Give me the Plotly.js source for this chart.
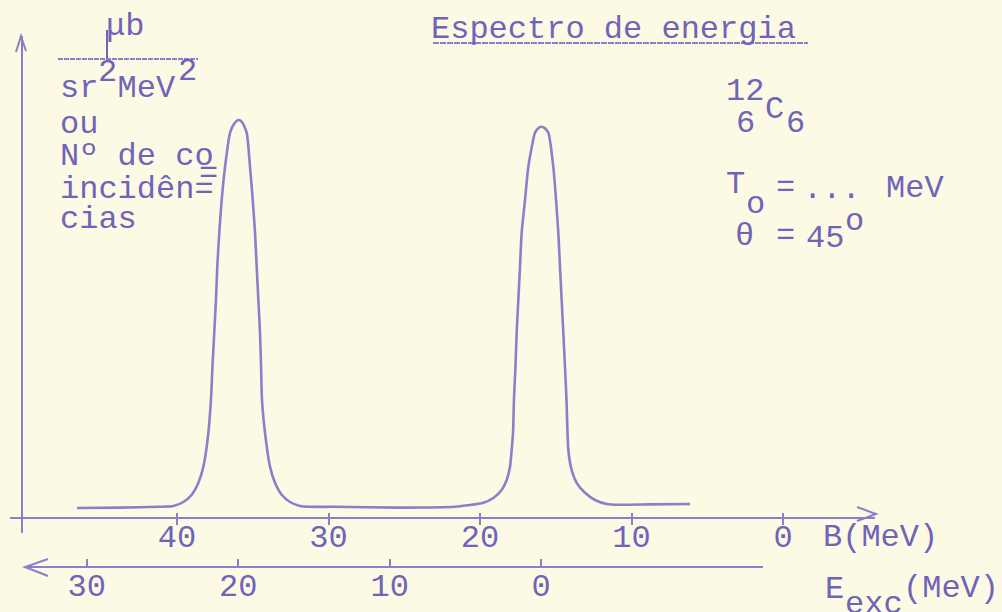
<!DOCTYPE html>
<html>
<head>
<meta charset="utf-8">
<script src="https://cdn.plot.ly/plotly-3.0.1.min.js"></script>
<style>
  html, body { margin: 0; padding: 0; background: #fcfae5; }
  #chart { width: 1002px; height: 612px; }
</style>
</head>
<body>
<div id="chart"></div>
<script>
// Excitation energy of 12C (MeV) along the measured spectrum
const excEnergy = [
  30.64, 27.80, 25.16, 24.28, 23.62, 23.07, 22.63, 22.30, 21.97, 21.80,
  21.70, 21.58, 21.47, 21.38, 21.25, 21.09, 20.87, 20.54, 20.28, 19.99,
  19.75, 19.44, 19.22, 19.04, 18.89, 18.78, 18.67, 18.56, 18.49, 18.43,
  18.23, 17.90, 17.57, 17.13, 16.58, 15.92, 15.26, 13.74, 9.32, 5.69,
  3.82, 3.16, 2.61, 2.28, 2.06, 1.95, 1.86, 1.80, 1.70, 1.62,
  1.51, 1.40, 1.29, 1.07, 0.85, 0.41, 0.21, 0.00, -0.25, -0.47,
  -0.80, -0.98, -1.13, -1.24, -1.35, -1.46, -1.57, -1.67, -1.79, -2.01,
  -2.34, -2.89, -3.55, -4.32, -5.20, -7.18, -9.82
];
// Cross section / number of coincidences (arbitrary units)
const counts = [
  2.5, 2.6, 2.8, 3.0, 4.0, 5.8, 8.8, 12.8, 21.3, 29.5,
  37.8, 46.3, 54.5, 62.8, 71.3, 79.5, 87.8, 96.3, 98.5, 99.5,
  99.0, 96.3, 87.8, 79.5, 71.3, 62.8, 54.5, 46.3, 37.8, 29.5,
  21.3, 12.8, 8.8, 5.8, 4.0, 3.0, 2.8, 2.8, 2.6, 2.8,
  3.8, 5.0, 7.0, 9.5, 12.8, 17.0, 21.3, 29.5, 37.8, 46.3,
  54.5, 62.8, 71.3, 79.5, 87.8, 96.3, 97.4, 97.8, 97.4, 96.3,
  87.8, 79.5, 71.3, 62.8, 54.5, 46.3, 37.8, 29.5, 17.0, 12.0,
  8.8, 6.3, 4.5, 3.5, 3.3, 3.4, 3.5
];
// Binding energy scale B (MeV) and excitation energy scale E_exc (MeV)
const bTicks = [40, 30, 20, 10, 0];
const eTicks = [30, 20, 10, 0];
// proton separation energy of 12C: B = E_exc + Sp
const separationEnergy = 15.96;

const W = 1002, H = 612;
const INK = '#7064b9';
const LINE = '#8a7fcb';
const PAPER = '#fcfae5';
const FONT = 'Liberation Mono, Courier New, monospace';
const FS = 32;

// page geometry helpers (pixels -> paper fractions)
const fx = px => px / W;
const fy = py => 1 - py / H;
const pxPerMeV = 15.15;
const bZeroPx = 783;
const bAt = px => (bZeroPx - px) / pxPerMeV;
const eAt = px => bAt(px) - separationEnergy;
const yZeroPx = 518, pxPerUnit = 4;
const yAt = py => (yZeroPx - py) / pxPerUnit;

const spectrum = {
  x: excEnergy, y: counts,
  xaxis: 'x2', yaxis: 'y',
  mode: 'lines',
  line: { color: LINE, width: 2.6, shape: 'spline', smoothing: 0.6 },
  hoverinfo: 'skip', showlegend: false
};
// empty traces so the B scale subplots are laid out
const bScale = { x: [], y: [], xaxis: 'x', yaxis: 'y', mode: 'lines', showlegend: false, hoverinfo: 'skip' };
const bScaleTicks = { x: [], y: [], xaxis: 'x3', yaxis: 'y', mode: 'lines', showlegend: false, hoverinfo: 'skip' };

const baseAxis = {
  showgrid: false, zeroline: false, fixedrange: true,
  linecolor: LINE, linewidth: 2, tickcolor: LINE, tickwidth: 2,
  tickfont: { family: FONT, size: FS, color: INK }
};

// typed text placed by left edge and baseline (pixels)
const ascOff = 0.2665 * FS;
function typed(text, left, baseline) {
  return {
    text: text, xref: 'paper', yref: 'paper',
    x: fx(left), y: fy(baseline - ascOff),
    xanchor: 'left', yanchor: 'middle',
    showarrow: false, borderpad: 0, borderwidth: 0,
    font: { family: FONT, size: FS, color: INK }
  };
}

const annotations = [
  typed('\u03BCb', 106, 35),
  typed('sr\u00A0MeV', 60, 97),
  typed('2', 98, 81),
  typed('2', 178, 80),
  typed('ou', 60, 133),
  typed('N\u00BA\u00A0de\u00A0co', 60, 165),
  typed('=', 199, 182),
  typed('incid\u00EAn=', 60, 198),
  typed('cias', 60, 228),

  typed('12', 726, 100),
  typed('6', 736, 132),
  typed('C', 765, 118),
  typed('6', 786, 132),
  typed('T', 726, 193),
  typed('o', 746, 213),
  typed('=', 776, 196),
  typed('...', 803, 198),
  typed('MeV', 886, 197),
  typed('\u03B8', 735, 245),
  typed('=', 776, 244),
  typed('45', 806, 247),
  typed('o', 845, 230),

  typed('B(MeV)', 823, 546),
  typed('E', 825, 598),
  typed('exc', 845, 613),
  typed('(MeV)', 903, 597)
];

function pathPx(points) {
  return points.map((p, i) => (i ? 'L' : 'M') + fx(p[0]) + ',' + fy(p[1])).join(' ');
}
const arrowStyle = { color: LINE, width: 2 };
const shapes = [
  // axis arrowheads
  { type: 'path', xref: 'paper', yref: 'paper', path: pathPx([[16, 52], [21, 36], [26, 51]]), line: arrowStyle },
  { type: 'path', xref: 'paper', yref: 'paper', path: pathPx([[857, 507], [876, 514], [857, 521]]), line: arrowStyle },
  { type: 'path', xref: 'paper', yref: 'paper', path: pathPx([[48, 559], [25, 567], [48, 576]]), line: arrowStyle },
  // fraction bar of the unit
  { type: 'line', xref: 'paper', yref: 'paper', x0: fx(58), x1: fx(198), y0: fy(59), y1: fy(59), line: { color: LINE, width: 2, dash: '5px,1px' } },
  // underline of the heading
  { type: 'line', xref: 'paper', yref: 'paper', x0: fx(433), x1: fx(808), y0: fy(43), y1: fy(43), line: { color: LINE, width: 2, dash: '6px,1px' } },
  // stem of the mu
  { type: 'line', xref: 'paper', yref: 'paper', x0: fx(107), x1: fx(107), y0: fy(30), y1: fy(58), line: { color: INK, width: 2 } }
];

const bRange = [bAt(10), bAt(875)];

const layout = {
  width: W, height: H,
  margin: { l: 0, r: 0, t: 0, b: 0 },
  paper_bgcolor: PAPER, plot_bgcolor: 'rgba(0,0,0,0)',
  font: { family: FONT, color: INK, size: FS },
  showlegend: false,
  title: {
    text: 'Espectro de energia',
    xref: 'paper', yref: 'paper',
    x: fx(431), xanchor: 'left',
    y: fy(35 - ascOff), yanchor: 'middle',
    font: { family: FONT, size: FS, color: INK }
  },
  xaxis: Object.assign({}, baseAxis, {
    domain: [fx(10), fx(875)],
    range: bRange,
    anchor: 'free', position: fy(518),
    showline: true, ticks: 'outside', ticklen: 6,
    ticklabelstandoff: -16,
    tickvals: bTicks, ticktext: bTicks.map(String)
  }),
  xaxis3: Object.assign({}, baseAxis, {
    overlaying: 'x',
    domain: [fx(10), fx(875)],
    range: bRange,
    anchor: 'free', position: fy(518),
    showline: false, ticks: 'inside', ticklen: 5,
    tickvals: bTicks, showticklabels: false
  }),
  xaxis2: Object.assign({}, baseAxis, {
    domain: [fx(25), fx(763)],
    range: [eAt(25), eAt(763)],
    anchor: 'free', position: fy(567),
    showline: true, ticks: 'inside', ticklen: 7,
    ticklabelstandoff: -10,
    tickvals: eTicks, ticktext: eTicks.map(String)
  }),
  yaxis: Object.assign({}, baseAxis, {
    domain: [fy(533), fy(36)],
    range: [yAt(533), yAt(36)],
    anchor: 'free', position: fx(22),
    showline: true, ticks: '', showticklabels: false
  }),
  annotations: annotations,
  shapes: shapes
};

Plotly.newPlot('chart', [bScale, bScaleTicks, spectrum], layout, { staticPlot: true, displayModeBar: false });
</script>
</body>
</html>
